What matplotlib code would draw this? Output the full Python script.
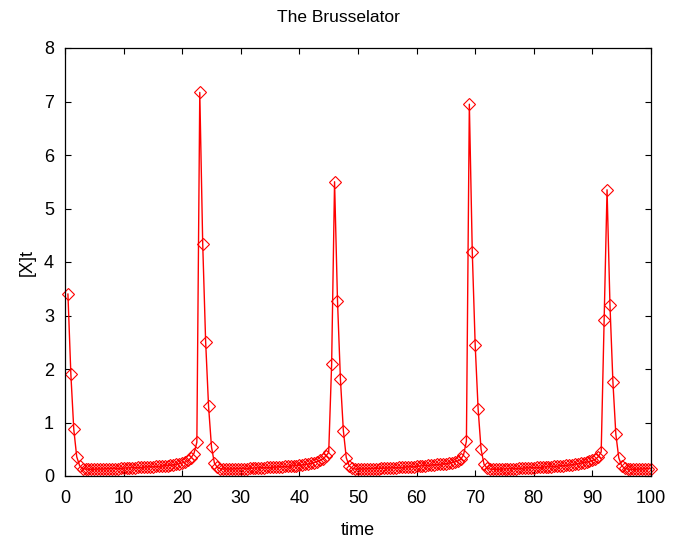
import numpy as np
import matplotlib
matplotlib.use("Agg")
import matplotlib.pyplot as plt

plt.rcParams['font.family'] = ['Liberation Sans', 'DejaVu Sans']

# time grid (solver output every 0.5 time units)
t_start, t_end, n_pts = 0.5, 100.0, 200

# [X] concentration, one value per time step
seg_a = [3.40, 1.90, 0.87, 0.36, 0.19, 0.14, 0.13, 0.125, 0.125, 0.125,
         0.13, 0.13, 0.13, 0.135, 0.135, 0.14, 0.14, 0.14, 0.145, 0.145,
         0.15, 0.15, 0.155, 0.155, 0.16, 0.16, 0.165, 0.17, 0.17, 0.175,
         0.18, 0.18, 0.185, 0.19, 0.195, 0.20, 0.21, 0.22, 0.23, 0.245,
         0.26, 0.29, 0.34, 0.42]
spike_2 = [0.63, 7.17, 4.34, 2.51, 1.30, 0.54]
seg_b = [0.24, 0.16, 0.135, 0.13, 0.13, 0.13, 0.13, 0.135, 0.135, 0.14,
         0.14, 0.14, 0.145, 0.145, 0.15, 0.15, 0.155, 0.155, 0.16, 0.16,
         0.165, 0.165, 0.17, 0.175, 0.18, 0.18, 0.185, 0.19, 0.195, 0.20,
         0.21, 0.215, 0.225, 0.235, 0.25, 0.27, 0.29, 0.32, 0.37, 0.44]
spike_3 = [2.09, 5.50, 3.28, 1.81, 0.85, 0.34]
seg_c = [0.19, 0.145, 0.13, 0.13, 0.13, 0.13, 0.135, 0.135, 0.14, 0.14,
         0.14, 0.145, 0.145, 0.15, 0.15, 0.155, 0.155, 0.16, 0.16, 0.165,
         0.17, 0.17, 0.175, 0.18, 0.185, 0.19, 0.195, 0.20, 0.205, 0.21,
         0.215, 0.22, 0.225, 0.23, 0.24, 0.25, 0.265, 0.28, 0.31, 0.39,
         0.65]
spike_4 = [6.95, 4.19, 2.44, 1.25, 0.50, 0.22]
seg_d = [0.15, 0.13, 0.125, 0.125, 0.125, 0.13, 0.13, 0.135, 0.135, 0.14,
         0.14, 0.145, 0.145, 0.15, 0.15, 0.155, 0.155, 0.16, 0.16, 0.165,
         0.17, 0.17, 0.175, 0.18, 0.185, 0.19, 0.195, 0.20, 0.205, 0.21,
         0.22, 0.23, 0.24, 0.25, 0.26, 0.275, 0.29, 0.31, 0.36, 0.45]
spike_5 = [2.92, 5.35, 3.19, 1.76, 0.78, 0.34]
seg_e = [0.19, 0.145, 0.13, 0.125, 0.125, 0.125, 0.13, 0.13, 0.135, 0.135,
         0.14]

x_conc = np.array(seg_a + spike_2 + seg_b + spike_3 + seg_c + spike_4
                  + seg_d + spike_5 + seg_e)
time = np.linspace(t_start, t_end, n_pts)

fig = plt.figure(figsize=(6.76, 5.40), dpi=100)
ax = fig.add_axes([65/676, 1 - 476/540, 586/676, 428/540])

ax.plot(time, x_conc, color='red', lw=1.0, marker='D', ms=6.5,
        mfc='none', mec='red', mew=0.8, clip_on=False)

ax.set_xlim(0, 100)
ax.set_ylim(0, 8)
ax.set_xticks(np.arange(0, 101, 10))
ax.set_yticks(np.arange(0, 9, 1))
ax.tick_params(direction='in', length=4, width=0.8, top=True, right=True,
               labelsize=13)
ax.tick_params(axis='x', pad=10)
ax.tick_params(axis='y', pad=8)
for s in ax.spines.values():
    s.set_linewidth(0.9)

ax.set_xlabel('time', fontsize=13, labelpad=11)
ax.set_ylabel('[X]t', fontsize=13, labelpad=6)
fig.text(0.5, 1 - 18/540, 'The Brusselator', ha='center', va='center',
         fontsize=12.5)

fig.savefig('out.png', dpi=100)
